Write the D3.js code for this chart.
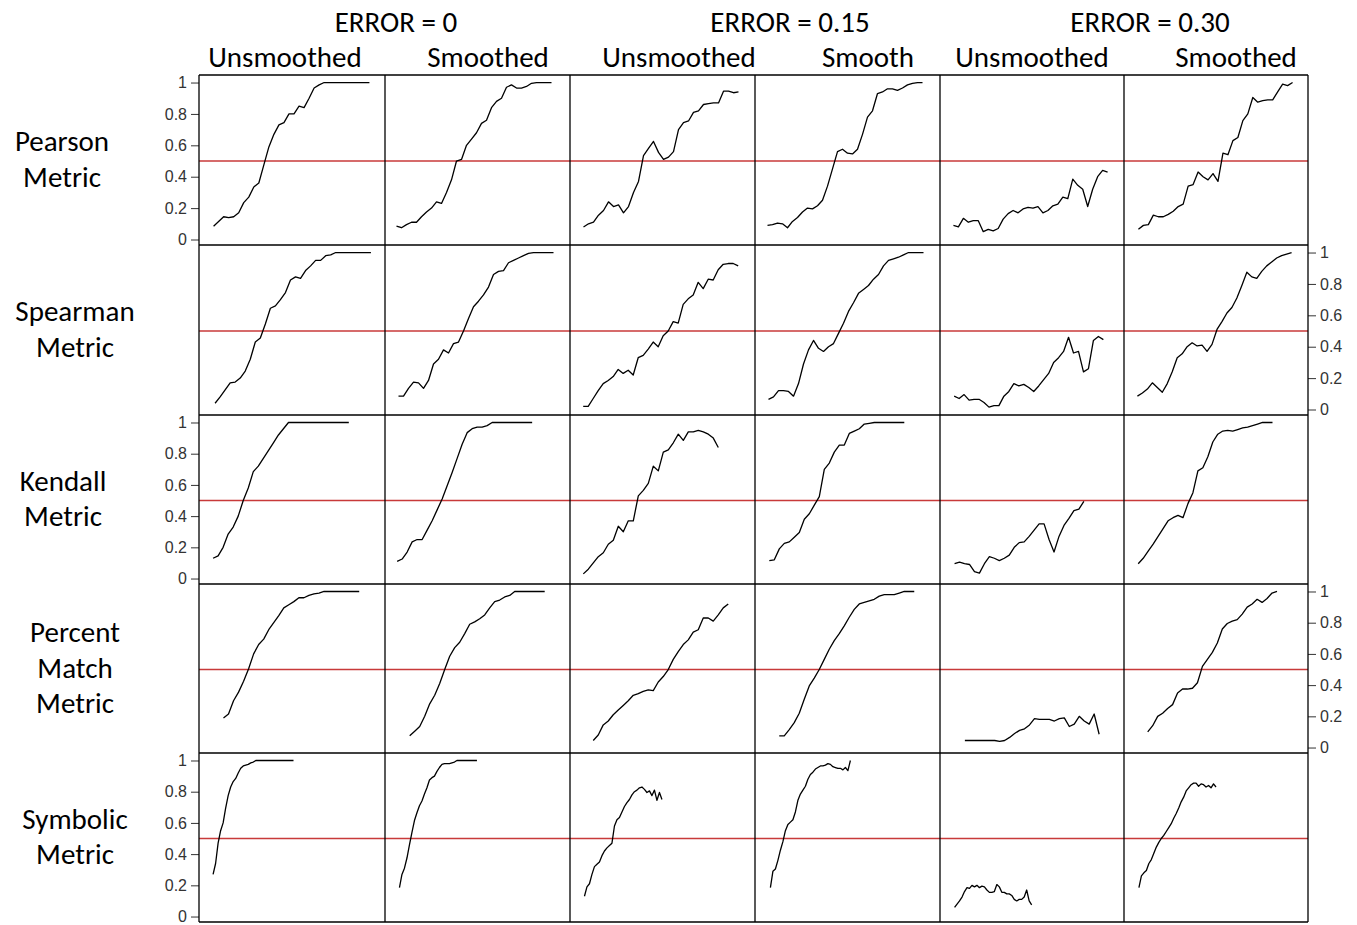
<!DOCTYPE html>
<html>
<head>
<meta charset="utf-8">
<script src="https://cdn.jsdelivr.net/npm/d3@7"></script>
<style>
  html, body { margin: 0; padding: 0; background: #fff; }
  svg { display: block; }
</style>
</head>
<body>
<svg id="chart" width="1357" height="925"></svg>
<script>
// ---- labels ----
const errorLevels = ["ERROR = 0", "ERROR = 0.15", "ERROR = 0.30"];
const columnLabels = ["Unsmoothed", "Smoothed", "Unsmoothed", "Smooth", "Unsmoothed", "Smoothed"];
const metricLabels = [["Pearson", "Metric"], ["Spearman", "Metric"], ["Kendall", "Metric"],
                      ["Percent", "Match", "Metric"], ["Symbolic", "Metric"]];
const yTicks = [0, 0.2, 0.4, 0.6, 0.8, 1];
const threshold = 0.5;

// ---- series: one array per panel, columns in order
// E0 unsmoothed, E0 smoothed, E0.15 unsmoothed, E0.15 smooth, E0.30 unsmoothed, E0.30 smoothed ----
const pearson = [
  [.085,.115,.145,.14,.145,.17,.235,.27,.335,.36,.475,.59,.67,.73,.745,.8,.8,.85,.84,.9,.965,.985,1,1,1,1,1,1,1,1,1,1],
  [.085,.075,.095,.11,.11,.145,.175,.2,.24,.23,.3,.38,.5,.51,.6,.64,.68,.74,.76,.84,.88,.9,.97,.985,.965,.965,.975,.995,1,1,1,1],
  [.08,.1,.11,.155,.185,.24,.21,.22,.17,.21,.3,.37,.535,.58,.625,.555,.51,.525,.56,.7,.745,.755,.81,.82,.86,.865,.87,.87,.945,.945,.935,.94],
  [.09,.095,.105,.1,.075,.115,.14,.175,.2,.195,.215,.25,.34,.45,.56,.575,.55,.545,.575,.67,.78,.82,.93,.94,.96,.96,.95,.965,.985,.995,1,1],
  [.09,.08,.135,.11,.12,.12,.05,.065,.055,.07,.13,.165,.185,.17,.195,.205,.2,.21,.17,.185,.215,.225,.27,.26,.385,.345,.32,.21,.32,.4,.44,.43],
  [.065,.09,.095,.155,.145,.145,.16,.18,.21,.225,.34,.35,.43,.4,.38,.42,.37,.55,.54,.63,.65,.757,.8,.905,.875,.885,.89,.89,.94,.99,.98,1]
];
const pearsonStart = [2.9, 2.3, 2.7, 2.5, 2.7, 2.9];

const spearman = [
  [.04,.08,.125,.17,.175,.2,.245,.32,.43,.455,.545,.645,.66,.7,.745,.825,.845,.835,.885,.915,.95,.95,.98,.985,1,1,1,1,1,1,1,1],
  [.085,.085,.135,.175,.17,.135,.185,.29,.32,.38,.36,.42,.43,.5,.58,.655,.69,.73,.78,.86,.88,.885,.935,.95,.965,.98,.995,1,1,1,1,1],
  [.02,.02,.07,.12,.165,.185,.21,.255,.23,.25,.22,.33,.345,.385,.43,.4,.47,.5,.56,.55,.67,.705,.73,.81,.77,.83,.825,.89,.925,.93,.93,.915],
  [.065,.08,.12,.12,.115,.085,.165,.29,.38,.44,.39,.37,.4,.42,.485,.55,.625,.68,.74,.765,.79,.83,.86,.915,.95,.96,.97,.985,1,1,1,1],
  [.085,.07,.095,.06,.065,.065,.045,.015,.025,.025,.085,.115,.165,.15,.16,.14,.115,.15,.19,.23,.3,.33,.37,.46,.36,.37,.24,.26,.44,.465,.445],
  [.085,.105,.13,.17,.14,.11,.165,.24,.33,.355,.4,.425,.405,.41,.37,.415,.51,.56,.615,.65,.71,.79,.875,.845,.835,.88,.915,.94,.965,.98,.99,1]
];
const spearmanStart = [3.2, 2.7, 2.64, 2.7, 2.85, 2.7];

const kendall = [
  [.13,.145,.2,.285,.33,.4,.5,.58,.685,.72,.77,.82,.87,.92,.96,1,1,1,1,1,1,1,1,1,1,1,1,1],
  [.11,.125,.17,.235,.25,.25,.31,.37,.44,.51,.595,.68,.77,.86,.935,.96,.97,.97,.98,1,1,1,1,1,1,1,1,1],
  [.03,.06,.1,.14,.165,.22,.245,.335,.3,.37,.37,.53,.565,.61,.72,.69,.81,.825,.87,.925,.885,.94,.94,.95,.94,.925,.9,.84],
  [.115,.12,.19,.225,.235,.265,.295,.38,.415,.47,.525,.7,.74,.81,.855,.855,.93,.945,.96,.99,.995,1,1,1,1,1,1,1],
  [.095,.105,.095,.09,.045,.035,.095,.14,.13,.115,.13,.15,.2,.23,.235,.27,.31,.35,.35,.25,.17,.27,.34,.385,.435,.445,.495],
  [.095,.13,.175,.22,.27,.32,.37,.39,.405,.39,.48,.55,.69,.71,.78,.875,.925,.945,.95,.945,.955,.965,.97,.98,.99,1,1,1]
];
const kendallStart = [2.8, 2.43, 2.66, 2.86, 2.93, 2.86];

const percentMatch = [
  [.19,.215,.3,.355,.425,.505,.6,.66,.695,.755,.8,.845,.895,.915,.935,.96,.96,.975,.985,.99,1,1,1,1,1,1,1,1],
  [.075,.105,.135,.2,.28,.335,.41,.5,.585,.64,.675,.73,.79,.805,.825,.85,.895,.935,.945,.965,.975,1,1,1,1,1,1,1],
  [.045,.08,.145,.17,.21,.24,.27,.3,.335,.345,.36,.37,.365,.42,.455,.5,.565,.615,.66,.69,.74,.755,.83,.83,.81,.85,.895,.92],
  [.075,.075,.115,.16,.22,.31,.395,.445,.5,.565,.63,.685,.73,.78,.835,.885,.92,.93,.94,.95,.97,.98,.98,.98,.99,1,1,1],
  [.045,.045,.045,.045,.045,.045,.045,.04,.045,.065,.09,.11,.12,.145,.185,.18,.18,.18,.17,.185,.19,.135,.15,.2,.17,.15,.215,.085],
  [.1,.14,.2,.22,.25,.275,.35,.375,.375,.38,.415,.52,.565,.61,.67,.76,.795,.81,.82,.855,.9,.92,.95,.93,.955,.99,1]
];
const percentMatchStart = [4.87, 4.94, 4.65, 4.85, 5.0, 4.77];

const symbolic = [
  [.27,.34,.47,.55,.6,.695,.775,.83,.865,.885,.92,.95,.965,.97,.975,.985,.99,1,1,1,1,1,1,1,1,1,1,1,1,1,1,1,1],
  [.185,.27,.31,.375,.46,.54,.615,.665,.71,.74,.785,.825,.875,.89,.9,.93,.955,.975,.98,.98,.98,.985,.99,1,1,1,1,1,1,1,1,1],
  [.13,.19,.21,.27,.32,.335,.35,.39,.42,.44,.455,.47,.58,.62,.635,.67,.705,.73,.75,.78,.8,.81,.825,.83,.815,.795,.805,.775,.81,.745,.795,.75],
  [.185,.29,.305,.36,.425,.48,.55,.59,.605,.62,.67,.745,.785,.81,.835,.88,.91,.925,.945,.955,.965,.965,.97,.98,.975,.96,.955,.95,.95,.94,.955,.935,1],
  [.058,.08,.1,.125,.16,.185,.18,.2,.19,.2,.185,.195,.19,.17,.155,.155,.16,.205,.19,.155,.155,.145,.145,.135,.11,.1,.11,.11,.125,.17,.1,.075],
  [.185,.26,.28,.295,.34,.365,.405,.445,.475,.5,.52,.545,.57,.595,.63,.66,.695,.735,.765,.805,.825,.845,.855,.855,.835,.85,.845,.83,.84,.825,.85,.83]
];
const symbolicStart = [2.8, 2.89, 2.89, 3.08, 2.93, 3.0];

// sample spacing along the x index for each metric row
const rowStep = [1, 1, 1, 1, 0.5];

const rows = [
  { values: pearson, start: pearsonStart },
  { values: spearman, start: spearmanStart },
  { values: kendall, start: kendallStart },
  { values: percentMatch, start: percentMatchStart },
  { values: symbolic, start: symbolicStart }
];

// ---- layout ----
const colEdges = [199, 385, 570, 755, 940, 1124, 1308];
const rowEdges = [75, 245, 415, 584, 753, 922];
const headerX = [285, 488, 679, 868, 1032, 1236];
const errorX = [396, 790, 1150];
const metricX = [62, 75, 63, 75, 75];
const labelFont = "Carlito, Calibri, Lato, 'Open Sans', sans-serif";
const labelSize = "29px";
const tickFont = "'Liberation Sans', Arial, sans-serif";

const svg = d3.select("#chart");
svg.append("rect").attr("width", 1357).attr("height", 925).attr("fill", "#fff");

// column group headings
svg.append("g").selectAll("text").data(errorLevels).join("text")
  .attr("x", (d, i) => errorX[i]).attr("y", 22)
  .attr("text-anchor", "middle").attr("dominant-baseline", "central")
  .style("font-family", labelFont).style("font-size", labelSize).attr("fill", "#000")
  .text(d => d);

svg.append("g").selectAll("text").data(columnLabels).join("text")
  .attr("x", (d, i) => headerX[i]).attr("y", 57)
  .attr("text-anchor", "middle").attr("dominant-baseline", "central")
  .style("font-family", labelFont).style("font-size", labelSize).attr("fill", "#000")
  .text(d => d);

// metric names on the left
metricLabels.forEach((lines, r) => {
  const mid = (rowEdges[r] + rowEdges[r + 1]) / 2 - 1;
  const spacing = 35.5;
  const top = mid - spacing * (lines.length - 1) / 2;
  svg.append("g").selectAll("text").data(lines).join("text")
    .attr("x", metricX[r]).attr("y", (d, i) => top + i * spacing)
    .attr("text-anchor", "middle").attr("dominant-baseline", "central")
    .style("font-family", labelFont).style("font-size", labelSize).attr("fill", "#000")
    .text(d => d);
});

const xDomain = [0, 37];
const yDomain = [-0.035, 1.048];

rows.forEach((row, r) => {
  const y0 = rowEdges[r], y1 = rowEdges[r + 1];
  const y = d3.scaleLinear().domain(yDomain).range([y1, y0]);

  // y axis: left on odd-numbered rows, right on even-numbered rows
  const onLeft = r % 2 === 0;
  const axis = (onLeft ? d3.axisLeft(y) : d3.axisRight(y))
    .tickValues(yTicks).tickSize(8).tickPadding(4).tickFormat(d3.format("~g"));
  const ag = svg.append("g")
    .attr("transform", `translate(${onLeft ? colEdges[0] : colEdges[6]},0)`)
    .call(axis);
  ag.select(".domain").remove();
  ag.selectAll(".tick line").attr("stroke", "#333");
  ag.selectAll(".tick text").style("font-family", tickFont).style("font-size", "16px").attr("fill", "#333");

  for (let c = 0; c < 6; c++) {
    const x = d3.scaleLinear().domain(xDomain).range([colEdges[c], colEdges[c + 1]]);
    const vals = row.values[c];
    const s = row.start[c];
    const step = rowStep[r];

    // threshold line
    svg.append("line")
      .attr("x1", colEdges[c]).attr("x2", colEdges[c + 1])
      .attr("y1", y(threshold)).attr("y2", y(threshold))
      .attr("stroke", "#c83a3a").attr("stroke-width", 1.6);

    const line = d3.line()
      .x((d, i) => x(s + i * step))
      .y(d => y(d));
    svg.append("path").datum(vals)
      .attr("d", line)
      .attr("fill", "none").attr("stroke", "#000")
      .attr("stroke-width", 1.3).attr("stroke-linejoin", "round");
  }
});

// panel borders
const borders = svg.append("g").attr("fill", "none").attr("stroke", "#000").attr("stroke-width", 1.3);
colEdges.forEach(xv => borders.append("line")
  .attr("x1", xv).attr("x2", xv).attr("y1", rowEdges[0]).attr("y2", rowEdges[5]));
rowEdges.forEach(yv => borders.append("line")
  .attr("x1", colEdges[0]).attr("x2", colEdges[6]).attr("y1", yv).attr("y2", yv));
</script>
</body>
</html>
